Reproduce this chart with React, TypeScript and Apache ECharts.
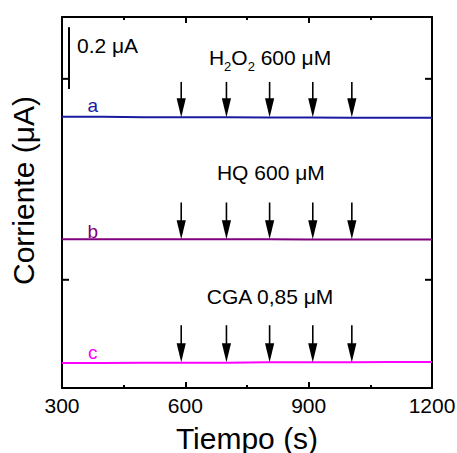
import React, { useEffect, useRef } from "react";
import * as echarts from "echarts";

// ---- data ----
const TIME = [300, 400, 500, 600, 700, 800, 900, 1000, 1100, 1200];
const TRACE_A = [0.877, 0.877, 0.876, 0.876, 0.876, 0.875, 0.875, 0.874, 0.874, 0.874];
const TRACE_B = [0.481, 0.481, 0.481, 0.481, 0.481, 0.481, 0.480, 0.480, 0.480, 0.480];
const TRACE_C = [0.081, 0.081, 0.082, 0.082, 0.082, 0.083, 0.083, 0.083, 0.084, 0.084];
const TRACE_NAMES = ["a", "b", "c"];
const TRACE_COLORS = ["#1a1aa0", "#800080", "#ff00ff"];
const TRACE_LABEL_X = [375, 375, 375];
const TRACE_LABEL_Y = [0.915, 0.507, 0.116];

const ARROW_TIMES = [590, 700, 805, 910, 1005];
const ARROW_TOPS = [0.99, 0.6, 0.203];
const ARROW_TIPS = [0.876, 0.481, 0.083];

const ADDITIONS = [
  "{n|H}{s|2}{n|O}{s|2}{n| 600 μM}",
  "{n|HQ 600 μM}",
  "{n|CGA 0,85 μM}",
];
const ADDITION_X = [806, 808, 806];
const ADDITION_Y = [1.069, 0.696, 0.2946];

const SCALE_BAR_X = 317;
const SCALE_BAR_Y0 = 0.967;
const SCALE_BAR_SIZE = 0.2;
const SCALE_BAR_TEXT = "0.2 μA";

const X_MIN = 300;
const X_MAX = 1200;
const X_INTERVAL = 300;
const Y_MIN = 0;
const Y_MAX = 1.2;
const Y_TICKS = [0.35, 1.0];

const FONT = 'Arial, "Liberation Sans", Helvetica, sans-serif';

export default function App() {
  const ref = useRef<HTMLDivElement>(null);
  useEffect(() => {
    if (!ref.current) return;
    const chart = echarts.init(ref.current, null, { renderer: "svg" });
    const traces = [TRACE_A, TRACE_B, TRACE_C];

    const xAxisCommon = {
      type: "value",
      min: X_MIN,
      max: X_MAX,
      interval: X_INTERVAL,
      axisLine: { show: true, onZero: false, lineStyle: { color: "#000", width: 2 } },
      axisTick: { show: true, inside: true, length: 6, lineStyle: { color: "#000", width: 2 } },
      minorTick: { show: true, splitNumber: 2, length: 3, lineStyle: { color: "#000", width: 2 } },
      splitLine: { show: false },
      minorSplitLine: { show: false },
    };
    const yAxisCommon = {
      type: "value",
      min: Y_MIN,
      max: Y_MAX,
      axisLine: { show: true, onZero: false, lineStyle: { color: "#000", width: 2 } },
      axisTick: { show: false },
      axisLabel: { show: false },
      splitLine: { show: false },
    };

    const series: any[] = traces.map((vals, i) => ({
      type: "line",
      name: TRACE_NAMES[i],
      data: TIME.map((t, k) => [t, vals[k]]),
      showSymbol: false,
      symbol: "none",
      lineStyle: { color: TRACE_COLORS[i], width: 2 },
      itemStyle: { color: TRACE_COLORS[i] },
      z: 3,
    }));

    // y-axis ticks on the left and right frame
    series.push({
      type: "custom",
      name: "yTicks",
      data: Y_TICKS.map((v) => [X_MIN, v]),
      clip: false,
      encode: { x: 0, y: 1 },
      renderItem: (_params: any, api: any) => {
        const pl = api.coord([X_MIN, api.value(1)]);
        const pr = api.coord([X_MAX, api.value(1)]);
        return {
          type: "group",
          children: [
            {
              type: "line",
              shape: { x1: pl[0], y1: pl[1], x2: pl[0] + 7, y2: pl[1] },
              style: { stroke: "#000", lineWidth: 2 },
            },
            {
              type: "line",
              shape: { x1: pr[0], y1: pr[1], x2: pr[0] - 7, y2: pr[1] },
              style: { stroke: "#000", lineWidth: 2 },
            },
          ],
        };
      },
      z: 7,
    });

    // trace labels a, b, c
    series.push({
      type: "custom",
      name: "traceLabels",
      data: TRACE_NAMES.map((_, i) => [TRACE_LABEL_X[i], TRACE_LABEL_Y[i]]),
      clip: false,
      encode: { x: 0, y: 1 },
      renderItem: (params: any, api: any) => {
        const p = api.coord([api.value(0), api.value(1)]);
        const i = params.dataIndex;
        return {
          type: "text",
          x: p[0],
          y: p[1],
          style: {
            text: TRACE_NAMES[i],
            fill: TRACE_COLORS[i],
            font: `19px ${FONT}`,
            align: "center",
            verticalAlign: "middle",
          },
        };
      },
      z: 5,
    });

    // addition arrows
    const arrowData: number[][] = [];
    ARROW_TOPS.forEach((top, j) => {
      ARROW_TIMES.forEach((t) => arrowData.push([t, top, ARROW_TIPS[j]]));
    });
    series.push({
      type: "custom",
      name: "arrows",
      data: arrowData,
      clip: false,
      encode: { x: 0, y: [1, 2] },
      renderItem: (_params: any, api: any) => {
        const p0 = api.coord([api.value(0), api.value(1)]);
        const p1 = api.coord([api.value(0), api.value(2)]);
        const hh = 19;
        const hw = 4.6;
        return {
          type: "group",
          children: [
            {
              type: "line",
              shape: { x1: p0[0], y1: p0[1], x2: p1[0], y2: p1[1] - hh + 1 },
              style: { stroke: "#000", lineWidth: 1.6 },
            },
            {
              type: "polygon",
              shape: {
                points: [
                  [p1[0] - hw, p1[1] - hh],
                  [p1[0] + hw, p1[1] - hh],
                  [p1[0], p1[1]],
                ],
              },
              style: { fill: "#000" },
            },
          ],
        };
      },
      z: 6,
    });

    // addition texts
    series.push({
      type: "custom",
      name: "additions",
      data: ADDITIONS.map((_, i) => [ADDITION_X[i], ADDITION_Y[i]]),
      clip: false,
      encode: { x: 0, y: 1 },
      renderItem: (params: any, api: any) => {
        const p = api.coord([api.value(0), api.value(1)]);
        const i = params.dataIndex;
        return {
          type: "text",
          x: p[0],
          y: p[1],
          style: {
            text: ADDITIONS[i],
            align: "center",
            verticalAlign: "middle",
            rich: {
              n: { fontSize: 21, fontFamily: FONT, color: "#000", lineHeight: 30 },
              s: { fontSize: 13, fontFamily: FONT, color: "#000", lineHeight: 13, verticalAlign: "bottom" },
            },
          },
        };
      },
      z: 5,
    });

    // scale bar
    series.push({
      type: "line",
      name: "scaleBar",
      data: [
        [SCALE_BAR_X, SCALE_BAR_Y0],
        [SCALE_BAR_X, SCALE_BAR_Y0 + SCALE_BAR_SIZE],
      ],
      showSymbol: false,
      symbol: "none",
      lineStyle: { color: "#000", width: 2 },
      z: 5,
    });
    series.push({
      type: "custom",
      name: "scaleText",
      data: [[SCALE_BAR_X, SCALE_BAR_Y0 + SCALE_BAR_SIZE * 0.71]],
      clip: false,
      encode: { x: 0, y: 1 },
      renderItem: (_params: any, api: any) => {
        const p = api.coord([api.value(0), api.value(1)]);
        return {
          type: "text",
          x: p[0] + 8,
          y: p[1],
          style: {
            text: SCALE_BAR_TEXT,
            fill: "#000",
            font: `21px ${FONT}`,
            align: "left",
            verticalAlign: "middle",
          },
        };
      },
      z: 5,
    });

    chart.setOption({
      animation: false,
      backgroundColor: "#fff",
      grid: {
        left: 62,
        right: 25,
        top: 17,
        bottom: 65,
        containLabel: false,
        outerBoundsMode: "none",
      },
      xAxis: [
        {
          ...xAxisCommon,
          position: "bottom",
          name: "Tiempo (s)",
          nameLocation: "middle",
          nameGap: 37,
          nameTextStyle: { fontSize: 30, lineHeight: 26, fontFamily: FONT, color: "#000" },
          axisLabel: {
            show: true,
            fontSize: 21,
            fontFamily: FONT,
            color: "#000",
            margin: 7,
            formatter: (v: number) => String(v),
          },
        },
        {
          ...xAxisCommon,
          position: "top",
          axisLabel: { show: false },
        },
      ],
      yAxis: [
        {
          ...yAxisCommon,
          position: "left",
          name: "Corriente (μA)",
          nameLocation: "middle",
          nameGap: 24,
          nameRotate: 90,
          nameTextStyle: { fontSize: 30, fontFamily: FONT, color: "#000", padding: [0, 0, 0, 24] },
        },
        {
          ...yAxisCommon,
          position: "right",
        },
      ],
      series,
    });
    return () => chart.dispose();
  }, []);

  return (
    <div
      ref={ref}
      style={{ position: "fixed", left: 0, top: 0, width: 457, height: 453, background: "#fff" }}
    />
  );
}
